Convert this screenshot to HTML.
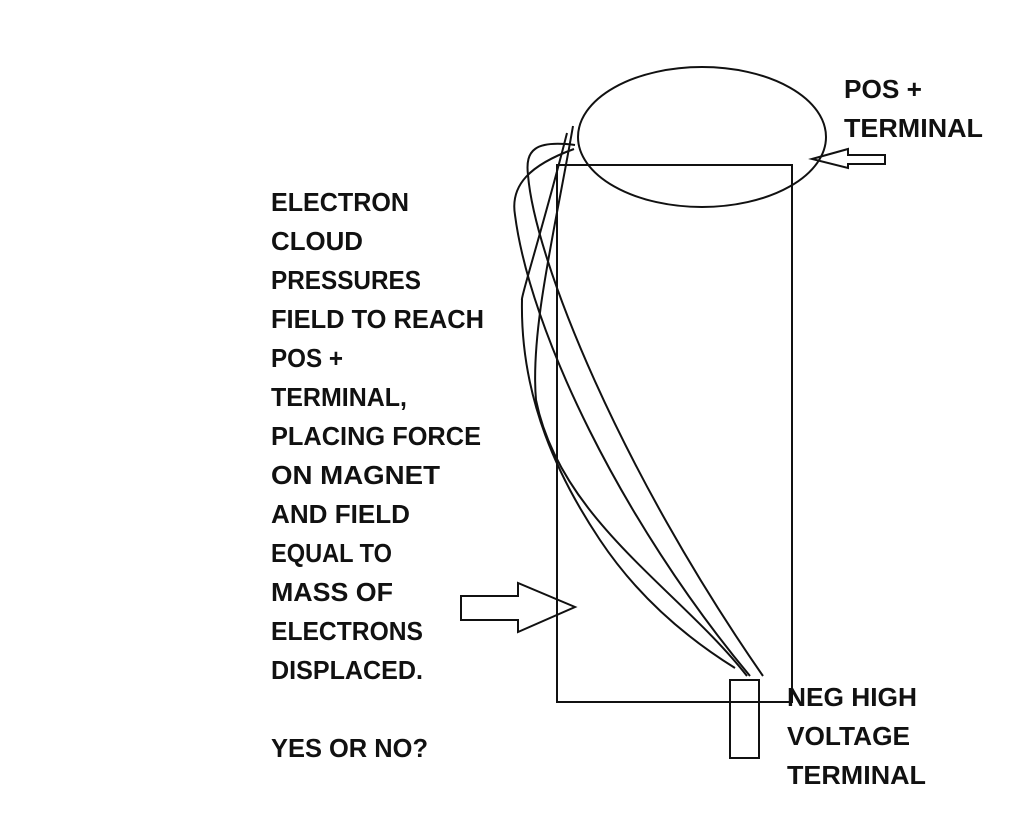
<!DOCTYPE html>
<html><head><meta charset="utf-8"><style>
body{margin:0;background:#fff;}
svg{display:block;}
text{font-family:"Liberation Sans",Arial,sans-serif;font-weight:bold;font-size:26px;fill:#111;}
</style></head><body>
<svg width="1024" height="819" viewBox="0 0 1024 819" xmlns="http://www.w3.org/2000/svg">
<g fill="none" stroke="#111" stroke-width="2">
<rect x="557" y="165" width="235" height="537"/>
<ellipse cx="702" cy="137" rx="124" ry="70"/>
<rect x="730" y="680" width="29" height="78"/>
<polygon points="461,596 518,596 518,583 575,607 518,632 518,620 461,620"/>
<polygon points="885,155 848,155 848,149 812,159 848,168 848,164 885,164"/>
<path d="M575,145 C535,140 525,150 528,175 C535,260 620,470 763,676"/>
<path d="M574,149 C530,165 510,185 515,215 C530,330 620,520 750,676"/>
<path d="M567,133 C545,220 520,300 522,300 C520,400 560,480 600,540 C640,600 690,640 735,668"/>
<path d="M573,126 C555,230 530,330 536,400 C560,520 680,590 747,676"/>
</g>
<g>
<text x="271" y="211" textLength="138" lengthAdjust="spacingAndGlyphs">ELECTRON</text>
<text x="271" y="250" textLength="92" lengthAdjust="spacingAndGlyphs">CLOUD</text>
<text x="271" y="289" textLength="150" lengthAdjust="spacingAndGlyphs">PRESSURES</text>
<text x="271" y="328" textLength="213" lengthAdjust="spacingAndGlyphs">FIELD TO REACH</text>
<text x="271" y="367" textLength="72" lengthAdjust="spacingAndGlyphs">POS +</text>
<text x="271" y="406" textLength="136" lengthAdjust="spacingAndGlyphs">TERMINAL,</text>
<text x="271" y="445" textLength="210" lengthAdjust="spacingAndGlyphs">PLACING FORCE</text>
<text x="271" y="484" textLength="169" lengthAdjust="spacingAndGlyphs">ON MAGNET</text>
<text x="271" y="523" textLength="139" lengthAdjust="spacingAndGlyphs">AND FIELD</text>
<text x="271" y="562" textLength="121" lengthAdjust="spacingAndGlyphs">EQUAL TO</text>
<text x="271" y="601" textLength="122" lengthAdjust="spacingAndGlyphs">MASS OF</text>
<text x="271" y="640" textLength="152" lengthAdjust="spacingAndGlyphs">ELECTRONS</text>
<text x="271" y="679" textLength="152" lengthAdjust="spacingAndGlyphs">DISPLACED.</text>
<text x="271" y="757" textLength="157" lengthAdjust="spacingAndGlyphs">YES OR NO?</text>
<text x="844" y="98" textLength="78" lengthAdjust="spacingAndGlyphs">POS +</text>
<text x="844" y="137" textLength="139" lengthAdjust="spacingAndGlyphs">TERMINAL</text>
<text x="787" y="706" textLength="130" lengthAdjust="spacingAndGlyphs">NEG HIGH</text>
<text x="787" y="745" textLength="123" lengthAdjust="spacingAndGlyphs">VOLTAGE</text>
<text x="787" y="784" textLength="139" lengthAdjust="spacingAndGlyphs">TERMINAL</text>
</g>
</svg>
</body></html>
